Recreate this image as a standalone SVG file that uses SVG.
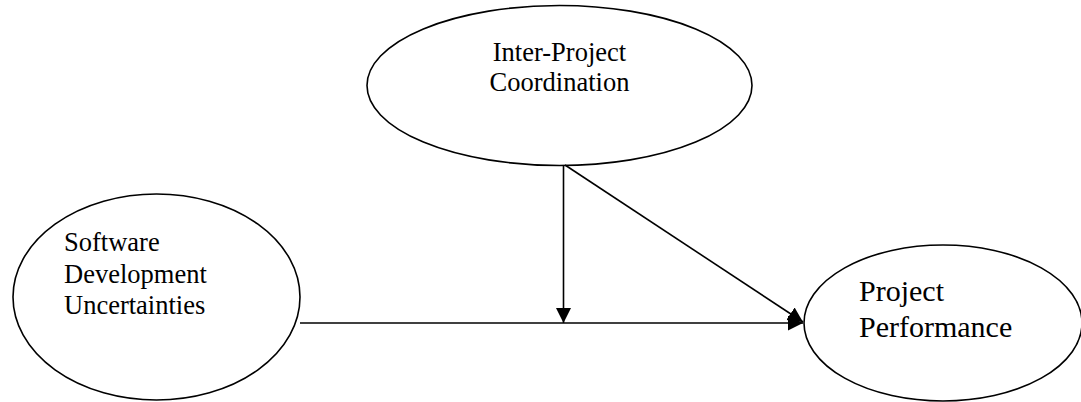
<svg xmlns="http://www.w3.org/2000/svg" width="1081" height="402" viewBox="0 0 1081 402">
<style>
.node ellipse{fill:#ffffff;stroke:#000000;stroke-width:1.6}
.lbl{font-family:"Liberation Serif","Times New Roman",serif;fill:#000000}
.conn line{stroke:#000000;stroke-width:1.6;fill:none}
</style>
<defs>
<marker id="arr" markerUnits="userSpaceOnUse" markerWidth="16" markerHeight="16" viewBox="0 0 16 16" refX="15" refY="7.5" orient="auto">
<path d="M0,0 L15,7.5 L0,15 Z" fill="#000000"/>
</marker>
</defs>
<rect width="1081" height="402" fill="#ffffff"/>
<g id="ipc" class="node">
<ellipse cx="559.5" cy="85.5" rx="192.5" ry="80"/>
<text class="lbl" font-size="26.5" text-anchor="middle" x="559.5" y="61">Inter-Project</text>
<text class="lbl" font-size="26.5" text-anchor="middle" x="559.5" y="91">Coordination</text>
</g>
<g id="sdu" class="node">
<ellipse cx="156.5" cy="297" rx="143.5" ry="103"/>
<text class="lbl" font-size="26.5" x="64" y="251">Software</text>
<text class="lbl" font-size="26.5" x="64" y="282.5">Development</text>
<text class="lbl" font-size="26.5" x="64" y="314">Uncertainties</text>
</g>
<g id="pp" class="node">
<ellipse cx="943" cy="323" rx="139" ry="78"/>
<text class="lbl" font-size="30" x="859" y="301">Project</text>
<text class="lbl" font-size="30" x="859" y="337">Performance</text>
</g>
<g id="connectors" class="conn">
<line x1="300" y1="323" x2="803" y2="323" marker-end="url(#arr)"/>
<line x1="563.5" y1="165" x2="563.5" y2="323" marker-end="url(#arr)"/>
<line x1="565" y1="165" x2="803" y2="322" marker-end="url(#arr)"/>
</g>
</svg>
